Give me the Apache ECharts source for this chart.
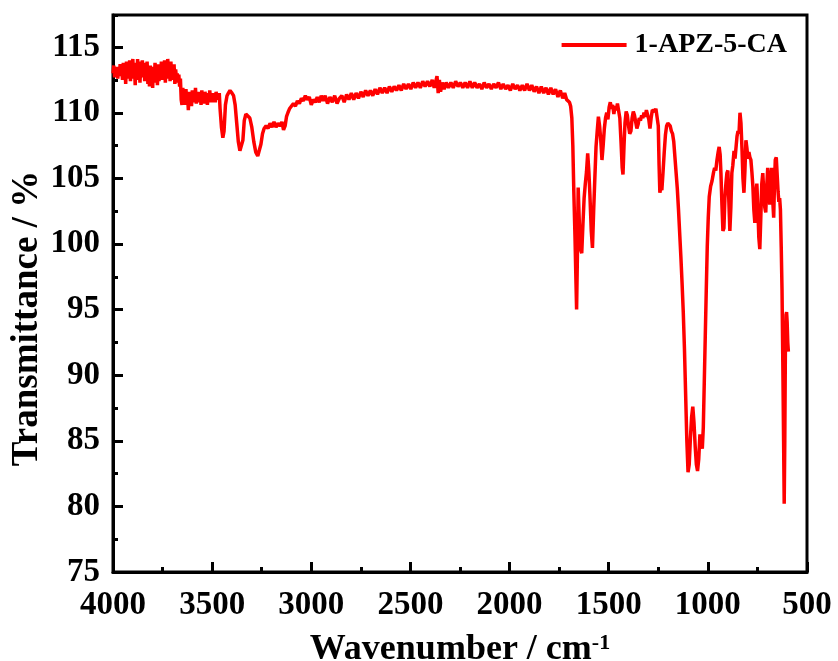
<!DOCTYPE html>
<html>
<head>
<meta charset="utf-8">
<title>FTIR 1-APZ-5-CA</title>
<script src="https://cdn.jsdelivr.net/npm/echarts@6/dist/echarts.min.js"></script>
<style>
  html, body { margin: 0; padding: 0; background: #fff; }
  #chart { width: 838px; height: 661px; }
</style>
</head>
<body>
<div id="chart"></div>
<script>
// spectrum (cm-1 / %)
const seriesName = '1-APZ-5-CA'

const wavenumber = [
  4000, 3996, 3992, 3988, 3984, 3980, 3976, 3972, 3968, 3964,
  3960, 3956, 3952, 3948, 3944, 3940, 3936, 3932, 3928, 3924,
  3920, 3916, 3912, 3908, 3904, 3900, 3896, 3892, 3888, 3884,
  3880, 3876, 3872, 3868, 3864, 3860, 3856, 3852, 3848, 3844,
  3840, 3836, 3832, 3828, 3824, 3820, 3816, 3812, 3808, 3804,
  3800, 3796, 3792, 3788, 3784, 3780, 3776, 3772, 3768, 3764,
  3760, 3756, 3752, 3748, 3744, 3740, 3736, 3732, 3728, 3724,
  3720, 3716, 3712, 3708, 3704, 3700, 3696, 3692, 3688, 3684,
  3680, 3676, 3672, 3668, 3664, 3660,
  3656, 3652, 3648, 3644, 3640, 3636, 3632, 3628, 3624, 3620,
  3616, 3612, 3608, 3604, 3600, 3596, 3592, 3588, 3584, 3580,
  3576, 3572, 3568, 3564, 3560, 3556, 3552, 3548, 3544, 3540,
  3536, 3532, 3528, 3524, 3520, 3516, 3512, 3508, 3504, 3500,
  3496, 3492, 3488, 3484, 3480, 3476, 3472, 3468, 3464,
  3460, 3453, 3446, 3440, 3433,
  3425, 3418, 3410, 3400, 3392, 3384, 3376, 3368, 3360, 3352,
  3345, 3338, 3330, 3320, 3310, 3300, 3290, 3280, 3270, 3262,
  3254, 3246, 3238, 3228, 3218, 3208, 3198, 3188, 3178, 3168,
  3158, 3148, 3140, 3132, 3125, 3118, 3110, 3100, 3090, 3080,
  3070, 3060, 3050, 3040, 3030, 3020, 3010, 3000, 2990, 2980,
  2970, 2960, 2950, 2940, 2930, 2918, 2906, 2894, 2882, 2870,
  2858, 2846, 2834, 2822, 2810, 2798, 2786, 2774, 2762, 2750,
  2738, 2726, 2714, 2702, 2690, 2678, 2666, 2654, 2642, 2630,
  2618, 2606, 2594, 2582, 2570, 2558, 2546, 2534, 2522, 2510,
  2498, 2486, 2474, 2462, 2450, 2438, 2426, 2414, 2402, 2390,
  2380, 2372, 2366, 2360, 2354, 2348, 2340, 2330, 2320, 2308,
  2296, 2284, 2272, 2260, 2248, 2236, 2224, 2212, 2200, 2188,
  2176, 2164, 2152, 2140, 2128, 2116, 2104, 2092, 2080, 2068,
  2056, 2044, 2032, 2020, 2008, 1996, 1984, 1972, 1960, 1948,
  1936, 1924, 1912, 1900, 1888, 1876, 1864, 1852, 1840, 1828,
  1816, 1804, 1792, 1780, 1768, 1756, 1744, 1732, 1722, 1712,
  1704, 1698, 1692, 1686, 1681, 1676, 1670, 1665, 1662, 1658,
  1654, 1648, 1642, 1636, 1630, 1624, 1618, 1612, 1606, 1600,
  1595, 1588, 1582, 1576, 1570, 1564, 1558, 1552, 1546, 1540,
  1534, 1528, 1522, 1516, 1510, 1504, 1498, 1492, 1486, 1480,
  1474, 1468, 1462, 1456, 1450, 1444, 1438, 1432, 1428, 1423,
  1418, 1412, 1406, 1400, 1394, 1388, 1382, 1376, 1370, 1364,
  1358, 1352, 1346, 1340, 1334, 1328, 1322, 1316, 1310, 1304,
  1298, 1292, 1286, 1280, 1274, 1268, 1262, 1256, 1250, 1246,
  1242, 1237, 1232, 1226, 1220, 1214, 1208, 1202, 1196, 1190,
  1184, 1178, 1172, 1166, 1160, 1154, 1148, 1142, 1136, 1130,
  1124, 1118, 1112, 1106, 1100, 1094, 1088, 1082, 1076, 1070,
  1064, 1058, 1052, 1046, 1040, 1034, 1028, 1023, 1018, 1013,
  1008, 1003, 998, 993, 986, 979, 972, 966, 960, 954,
  948, 943, 938, 934, 929, 924, 919, 914, 909, 904,
  899, 894, 889, 884, 879, 874, 868, 863, 858, 853,
  848, 843, 838, 833, 828, 823, 818, 813, 808, 803,
  798, 793, 788, 783, 778, 773, 768, 763, 758, 753,
  748, 743, 738, 733, 728, 723, 718, 713, 708, 703,
  698, 693, 688, 683, 678, 673, 668, 664, 660, 655,
  650, 646, 642, 638, 634, 630, 626, 622, 618, 615,
  612, 609, 606, 603, 600, 597, 594
]

const transmittance = [
  113.0, 113.6, 112.7, 113.4, 112.9, 113.5, 112.6, 113.3, 112.8, 113.7,
  112.9, 113.4, 112.5, 113.8, 112.7, 113.5, 112.2, 113.9, 112.6, 113.6,
  112.8, 114.0, 112.4, 113.7, 112.9, 114.1, 112.6, 113.5, 112.1, 113.8,
  112.5, 114.1, 112.8, 113.9, 112.3, 113.6, 112.9, 114.0, 112.7, 113.8,
  112.4, 113.5, 112.6, 113.9, 112.2, 113.4, 112.0, 113.6, 112.5, 113.2,
  111.9, 113.5, 112.3, 113.8, 112.6, 113.3, 112.1, 113.7, 112.4, 113.5,
  112.8, 113.9, 112.5, 113.4, 112.9, 114.0, 112.3, 113.8, 112.6, 114.1,
  112.9, 113.6, 112.4, 113.9, 112.7, 113.4, 112.5, 113.7, 112.2, 113.3,
  112.6, 113.0, 112.3, 112.9, 112.0, 112.6,
  111.0, 110.6, 111.9, 110.9, 111.5, 110.6, 111.8, 110.8, 111.4, 110.2,
  111.6, 110.7, 111.3, 110.5, 111.7, 110.9, 111.5, 110.8, 111.9, 110.7,
  111.4, 110.9, 111.6, 110.8, 111.3, 110.6, 111.7, 110.9, 111.4, 110.7,
  111.6, 110.9, 111.5, 110.6, 111.3, 110.8, 111.7, 110.9, 111.4, 110.8,
  111.5, 110.9, 111.3, 110.8, 111.6, 111.0, 111.4, 111.1, 111.5,
  110.3, 108.9, 108.1, 108.6, 110.6,
  111.3, 111.5, 111.7, 111.5, 111.3, 110.6, 109.2, 107.8, 107.1, 107.0,
  107.9, 109.4, 109.9, 110.0, 109.6, 108.9, 107.8, 107.0, 106.7, 106.8,
  107.6, 108.4, 108.8, 109.0, 108.8, 109.2, 108.9, 109.3, 108.9, 109.2,
  109.0, 109.3, 108.7, 109.0, 109.7, 110.0, 110.3, 110.4, 110.7, 110.5,
  110.9, 110.7, 111.1, 110.9, 111.3, 111.0, 111.2, 110.6, 111.0, 110.8,
  111.2, 110.8, 111.3, 110.9, 111.3, 110.7, 111.2, 110.8, 111.3, 110.7,
  111.1, 111.3, 110.8, 111.4, 111.0, 111.5, 111.0, 111.5, 111.1, 111.6,
  111.2, 111.7, 111.3, 111.7, 111.3, 111.8, 111.4, 111.9, 111.5, 111.9,
  111.5, 112.0, 111.6, 112.0, 111.7, 112.1, 111.7, 112.2, 111.8, 112.2,
  111.8, 112.3, 111.9, 112.3, 111.9, 112.4, 112.0, 112.4, 112.0, 112.5,
  111.9, 112.4, 112.8, 111.5, 112.5, 111.6, 112.3, 111.8, 112.3, 111.9,
  112.3, 111.9, 112.4, 112.0, 112.3, 111.9, 112.3, 111.9, 112.4, 111.9,
  112.3, 111.9, 112.2, 111.8, 112.3, 111.9, 112.2, 111.8, 112.2, 111.9,
  112.3, 111.8, 112.2, 111.8, 112.1, 111.7, 112.2, 111.8, 112.1, 111.7,
  112.1, 111.7, 112.2, 111.7, 112.1, 111.6, 112.0, 111.5, 112.0, 111.5,
  111.9, 111.4, 111.9, 111.4, 111.8, 111.2, 111.7, 111.1, 111.5, 111.0,
  111.0, 110.8, 110.5, 109.6, 107.5, 104.0, 100.5, 97.0, 95.0, 99.0,
  104.3, 101.5, 99.6, 99.3, 101.5, 103.5, 104.6, 105.5, 106.9, 105.5,
  103.8, 101.0, 99.7, 102.5, 105.0, 107.4, 108.6, 109.7, 109.0, 107.9,
  106.4, 107.5, 108.8, 109.6, 110.0, 109.5, 110.4, 110.8, 110.3, 110.6,
  109.9, 110.5, 110.2, 110.7, 110.6, 109.6, 107.8, 105.8, 105.3, 107.4,
  109.2, 110.1, 109.8, 109.0, 108.4, 108.6, 109.6, 110.1, 109.8, 109.3,
  108.8, 109.1, 109.6, 109.4, 109.8, 109.6, 110.0, 109.7, 110.2, 110.1,
  109.5, 108.8, 109.6, 110.2, 110.3, 110.1, 110.3, 110.2, 109.0, 106.0,
  103.9, 104.3, 104.1, 105.5, 107.0, 108.3, 109.0, 109.2, 109.2, 109.0,
  108.6, 108.4, 107.8, 106.6, 105.4, 104.2, 102.6, 100.8, 99.0, 97.0,
  94.8, 92.0, 88.5, 85.0, 82.6, 83.2, 85.2, 86.8, 87.6, 86.4,
  84.6, 83.2, 82.7, 83.6, 85.5, 84.8, 84.4, 86.0, 89.5, 93.0,
  96.5, 99.8, 102.0, 103.6, 104.4, 104.8, 105.4, 105.8, 105.6, 106.4,
  107.0, 107.4, 106.8, 105.4, 103.0, 101.0, 101.2, 103.5, 104.6, 105.4,
  105.6, 103.2, 101.0, 102.8, 105.4, 106.0, 107.1, 106.5, 106.6, 108.2,
  108.6, 108.4, 110.0, 109.2, 107.3, 105.0, 103.9, 105.6, 107.9, 107.3,
  106.5, 107.0, 106.6, 106.4, 105.5, 104.4, 102.6, 101.6, 103.8, 104.6,
  102.8, 100.5, 99.6, 102.0, 104.6, 105.4, 104.0, 102.8, 102.4, 104.4,
  105.8, 104.6, 103.0, 104.8, 105.8, 103.4, 102.0, 104.6, 106.4, 106.6,
  106.5, 104.0, 103.2, 103.5, 102.6, 99.8, 96.5, 91.0, 85.0, 80.2,
  85.0, 92.0, 94.6, 94.8, 94.0, 92.5, 91.8
]

const xMin = 500
const xMax = 4000
const xStep = 500
const yMin = 75
const yMax = 117.45
const yStep = 5

const fontFamily = "'Liberation Serif', 'Times New Roman', serif"
const black = '#000'

const chart = echarts.init(document.getElementById('chart'))

const tickLabel = {
  color: black,
  fontFamily,
  fontWeight: 'bold',
  fontSize: 33,
}

const points = wavenumber.map((w, i) => [w, transmittance[i]])

chart.setOption({
  animation: false,
  backgroundColor: '#fff',
  grid: {
    left: 113,
    right: 31,
    top: 15,
    bottom: 89,
    outerBoundsMode: 'none',
    show: true,
    borderColor: black,
    borderWidth: 3,
  },
  legend: {
    data: [seriesName],
    right: 46,
    top: 26,
    icon: 'rect',
    itemWidth: 65,
    itemHeight: 4,
    itemStyle: { color: '#ff0000' },
    textStyle: { color: black, fontFamily, fontWeight: 'bold', fontSize: 28, padding: [0, 0, 0, 3] },
  },
  xAxis: [
    {
      type: 'value',
      inverse: true,
      min: xMin,
      max: xMax,
      interval: xStep,
      name: '{t|Wavenumber / cm}{s|-1}',
      nameLocation: 'middle',
      nameGap: 60,
      nameMoveOverlap: false,
      nameTextStyle: {
        rich: {
          t: { color: black, fontFamily, fontWeight: 'bold', fontSize: 36 },
          s: { color: black, fontFamily, fontWeight: 'bold', fontSize: 22, verticalAlign: 'top' },
        },
      },
      axisLine: { onZero: false, lineStyle: { color: black, width: 3 } },
      axisTick: { inside: true, length: 10, lineStyle: { color: black, width: 3 } },
      axisLabel: { ...tickLabel, margin: 17, formatter: (v) => String(v) },
      splitLine: { show: false },
    },
    {
      // minor ticks
      type: 'value',
      inverse: true,
      position: 'bottom',
      min: xMin,
      max: xMax,
      interval: xStep / 2,
      axisLine: { show: false, onZero: false },
      axisTick: { inside: true, length: 5, lineStyle: { color: black, width: 3 } },
      axisLabel: { show: false },
      splitLine: { show: false },
    },
  ],
  yAxis: [
    {
      type: 'value',
      min: yMin,
      max: yMax,
      interval: yStep,
      name: 'Transmittance / %',
      nameLocation: 'middle',
      nameGap: 67,
      nameMoveOverlap: false,
      nameTextStyle: { color: black, fontFamily, fontWeight: 'bold', fontSize: 37, padding: [0, 50, 0, 0] },
      axisLine: { onZero: false, lineStyle: { color: black, width: 3 } },
      axisTick: { inside: true, length: 10, lineStyle: { color: black, width: 3 } },
      axisLabel: { ...tickLabel, margin: 13, showMaxLabel: false },
      splitLine: { show: false },
    },
    {
      // minor ticks
      type: 'value',
      position: 'left',
      min: yMin,
      max: yMax,
      interval: yStep / 2,
      axisLine: { show: false, onZero: false },
      axisTick: { inside: true, length: 5, lineStyle: { color: black, width: 3 } },
      axisLabel: { show: false },
      splitLine: { show: false },
    },
  ],
  series: [
    {
      name: seriesName,
      type: 'line',
      xAxisIndex: 0,
      yAxisIndex: 0,
      data: points,
      symbol: 'none',
      lineStyle: { color: '#ff0000', width: 3.5 },
      itemStyle: { color: '#ff0000' },
    },
  ],
})
</script>
</body>
</html>
